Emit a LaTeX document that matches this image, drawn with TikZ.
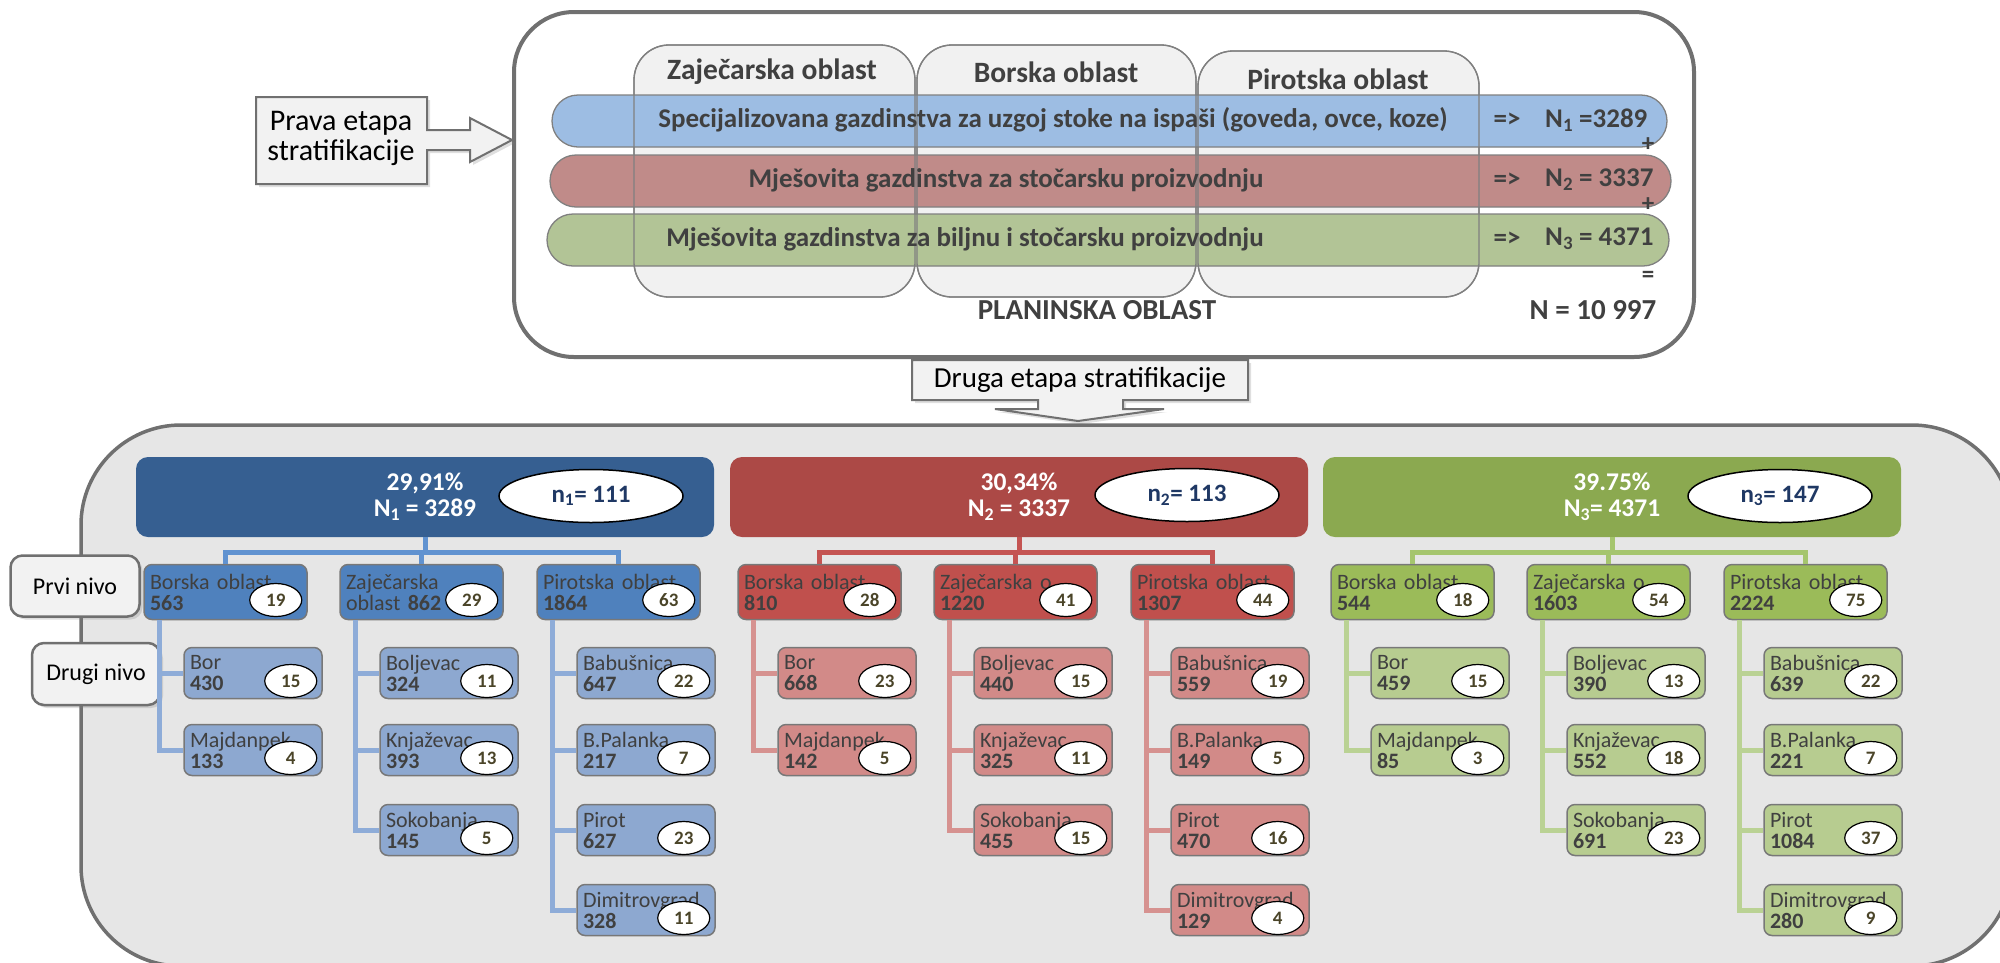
\documentclass[tikz,border=0pt]{standalone}
\usepackage{fontspec}
\setmainfont{Carlito}
\usetikzlibrary{shapes.geometric,shadows}

\definecolor{framegrey}{RGB}{112,112,112}
\definecolor{colfill}{RGB}{241,241,241}
\definecolor{colline}{RGB}{128,128,128}
\definecolor{bandblue}{RGB}{157,189,227}
\definecolor{bandred}{RGB}{192,139,137}
\definecolor{bandgreen}{RGB}{178,196,150}
\definecolor{txtgrey}{RGB}{64,64,64}
\definecolor{boxfill}{RGB}{242,242,242}
\definecolor{bigfill}{RGB}{230,230,230}
\definecolor{catblue}{RGB}{54,95,145}
\definecolor{catred}{RGB}{172,73,70}
\definecolor{catgreen}{RGB}{139,169,80}
\definecolor{l1blue}{RGB}{79,129,189}
\definecolor{l1red}{RGB}{192,80,77}
\definecolor{l1green}{RGB}{155,187,89}
\definecolor{l2blue}{RGB}{141,168,208}
\definecolor{l2red}{RGB}{210,138,136}
\definecolor{l2green}{RGB}{183,204,144}
\definecolor{tblue}{RGB}{96,146,208}
\definecolor{sblue}{RGB}{142,172,216}
\definecolor{tred}{RGB}{196,84,82}
\definecolor{sred}{RGB}{214,146,144}
\definecolor{tgreen}{RGB}{165,197,110}
\definecolor{sgreen}{RGB}{186,210,148}
\definecolor{navy}{RGB}{31,56,100}
\definecolor{cnttxt}{RGB}{74,68,40}
\definecolor{boxline}{RGB}{120,120,120}

\newcommand{\catfont}{\fontsize{25.5}{26}\selectfont\bfseries}
\newcommand{\ellfont}{\fontsize{25}{26}\selectfont\bfseries}
\newcommand{\lvlfont}{\fontsize{22}{21}\selectfont}
\newcommand{\cntfont}{\fontsize{19}{19}\selectfont\bfseries}
\newcommand{\bandfont}{\fontsize{27}{27}\selectfont\bfseries}
\newcommand{\colfont}{\fontsize{29.5}{30}\selectfont\bfseries}
\newcommand{\sumfont}{\fontsize{29}{29}\selectfont\bfseries}
\newcommand{\opfont}{\fontsize{25}{25}\selectfont\bfseries}
\newcommand{\stagefont}{\fontsize{30}{30}\selectfont}
\newcommand{\nivofont}{\fontsize{24}{24}\selectfont}

\tikzset{
  topframe/.style={draw=framegrey, line width=4pt, rounded corners=60pt, fill=white},
  bigframe/.style={draw=framegrey, line width=3.5pt, rounded corners=100pt, fill=bigfill},
  colbox/.style={rounded corners=35pt, draw=colline, line width=1.3pt},
  band/.style={rounded corners=26pt, draw=colline, line width=1.3pt},
  bandtxt/.style={font=\bandfont, text=txtgrey},
  coltxt/.style={font=\colfont, text=txtgrey},
  sumtxt/.style={font=\sumfont, text=txtgrey},
  optxt/.style={font=\opfont, text=txtgrey, inner sep=0pt},
  arrowbox/.style={fill=boxfill, draw=framegrey, line width=2pt,
    drop shadow={opacity=0.25, shadow xshift=3pt, shadow yshift=-3pt}},
  nivo/.style={draw=framegrey, line width=2.5pt, fill=boxfill, rounded corners=12pt,
    font=\nivofont, drop shadow={opacity=0.25, shadow xshift=3pt, shadow yshift=-3pt}},
  cat/.style={rounded corners=12pt, minimum width=578pt, minimum height=80pt,
    align=center, text=white, font=\catfont},
  bigell/.style={ellipse, draw=black, line width=1.5pt, fill=white, minimum width=184pt,
    minimum height=53pt, text=navy, font=\ellfont},
  cnt/.style={ellipse, draw=black, line width=1.2pt, fill=white, minimum width=52pt,
    minimum height=33pt, inner sep=0pt, text=cnttxt, font=\cntfont, anchor=center,
    xshift=-32pt, yshift=-8pt},
  lone/.style={draw=boxline, line width=1.5pt, rounded corners=8pt, minimum width=163pt,
    minimum height=55pt, text width=151pt, inner xsep=6pt, inner ysep=0pt, align=left,
    text=txtgrey, font=\lvlfont, label={[cnt]east:#1}},
  ltwo/.style={lone=#1, minimum width=138pt, minimum height=51pt, text width=126pt},
  conn/.style={line width=5pt},
}

\begin{document}
\begin{tikzpicture}[x=1pt,y=-1pt]
  \useasboundingbox (0,0) rectangle (2000,962);

  % frames
  \draw[bigframe] (81,425) rectangle (2012,966);
  \draw[topframe] (514,12) rectangle (1694,357);

  % first stage
  \draw[colbox, fill=colfill] (634,45) rectangle (915,297);
  \draw[colbox, fill=colfill] (917,45) rectangle (1196,297);
  \draw[colbox, fill=colfill] (1198,51) rectangle (1479,297);
  \node[coltxt] (zaj) at (772,72) {Zaječarska oblast};
  \node[coltxt] (bor) at (1056,72) {Borska oblast};
  \node[coltxt] (pir) at (1338,79) {Pirotska oblast};

  \draw[band, fill=bandblue] (552,95) rectangle (1667,147);
  \draw[band, fill=bandred] (550,155) rectangle (1671,207);
  \draw[band, fill=bandgreen] (547,214) rectangle (1669,266);
  \draw[colbox] (634,45) rectangle (915,297);
  \draw[colbox] (917,45) rectangle (1196,297);
  \draw[colbox] (1198,51) rectangle (1479,297);

  \node[bandtxt] (s1) at (1053,120) {Specijalizovana gazdinstva za uzgoj stoke na ispaši (goveda, ovce, koze)};
  \node[bandtxt] (s2) at (1006,180) {Mješovita gazdinstva za stočarsku proizvodnju};
  \node[bandtxt] (s3) at (965,239) {Mješovita gazdinstva za biljnu i stočarsku proizvodnju};
  \node[bandtxt] (i1) at (1507,120) {=>};
  \node[bandtxt] (i2) at (1507,180) {=>};
  \node[bandtxt] (i3) at (1507,239) {=>};
  \node[bandtxt, anchor=west, inner sep=0pt] (N1) at (1545,120) {N\textsubscript{1} =3289};
  \node[bandtxt, anchor=west, inner sep=0pt] (N2) at (1545,180) {N\textsubscript{2} = 3337};
  \node[bandtxt, anchor=west, inner sep=0pt] (N3) at (1545,239) {N\textsubscript{3} = 4371};
  \node[optxt] (p1) at (1648,145) {+};
  \node[optxt] (p2) at (1648,205) {+};
  \node[optxt] (eq) at (1648,277) {=};
  \node[sumtxt] (plan) at (1097,310) {PLANINSKA OBLAST};
  \node[sumtxt] (N) at (1593,310) {N = 10 997};

  % stage arrows
  \draw[arrowbox] (256,97) -- (427,97) -- (427,130) -- (470,130) -- (470,118) -- (512,140)
    -- (470,162) -- (470,150) -- (427,150) -- (427,184) -- (256,184) -- cycle;
  \node[font=\stagefont, align=center] (prva) at (341,138) {Prava etapa\\stratifikacije};
  \draw[arrowbox] (912,360) -- (1248,360) -- (1248,400) -- (1123,400) -- (1123,409)
    -- (1164,409) -- (1078,421) -- (995,409) -- (1038,409) -- (1038,400) -- (912,400) -- cycle;
  \node[font=\fontsize{29}{29}\selectfont] (druga) at (1080,380) {Druga etapa stratifikacije};

  % levels
  \node[nivo, minimum width=129pt, minimum height=61pt] (prvi) at (75,586) {Prvi nivo};
  \node[nivo, minimum width=128pt, minimum height=62pt] (drugi) at (96,674) {Drugi nivo};

  % strata
  \node[cat, fill=catblue] (cB) at (425,497) {29,91\%\\N\textsubscript{1} = 3289};
  \node[cat, fill=catred] (cR) at (1019,497) {30,34\%\\N\textsubscript{2} = 3337};
  \node[cat, fill=catgreen] (cG) at (1612,497) {39.75\%\\N\textsubscript{3}= 4371};
  \node[bigell] (nB) at (591,496) {n\textsubscript{1}= 111};
  \node[bigell] (nR) at (1187,495) {n\textsubscript{2}= 113};
  \node[bigell] (nG) at (1780,496) {n\textsubscript{3}= 147};

  \node[lone=19, fill=l1blue] (bB) at (225.5,592) {Borska oblast\\\textbf{563}};
  \node[lone=29, fill=l1blue] (bZ) at (421.5,592) {Zaječarska\\oblast \textbf{862}};
  \node[lone=63, fill=l1blue] (bP) at (618.5,592) {Pirotska oblast\\\textbf{1864}};
  \node[ltwo=15, fill=l2blue] (bBor) at (253,673) {Bor\\\textbf{430}};
  \node[ltwo=4, fill=l2blue] (bMaj) at (253,750) {Majdanpek\\\textbf{133}};
  \node[ltwo=11, fill=l2blue] (bBol) at (449,673) {Boljevac\\\textbf{324}};
  \node[ltwo=13, fill=l2blue] (bKnj) at (449,750) {Knjaževac\\\textbf{393}};
  \node[ltwo=5, fill=l2blue] (bSok) at (449,830) {Sokobanja\\\textbf{145}};
  \node[ltwo=22, fill=l2blue] (bBab) at (646,673) {Babušnica\\\textbf{647}};
  \node[ltwo=7, fill=l2blue] (bPal) at (646,750) {B.Palanka\\\textbf{217}};
  \node[ltwo=23, fill=l2blue] (bPir) at (646,830) {Pirot\\\textbf{627}};
  \node[ltwo=11, fill=l2blue] (bDim) at (646,910) {Dimitrovgrad\\\textbf{328}};

  \node[lone=28, fill=l1red] (rB) at (819.5,592) {Borska oblast\\\textbf{810}};
  \node[lone=41, fill=l1red] (rZ) at (1015.5,592) {Zaječarska o\\\textbf{1220}};
  \node[lone=44, fill=l1red] (rP) at (1212.5,592) {Pirotska oblast\\\textbf{1307}};
  \node[ltwo=23, fill=l2red] (rBor) at (847,673) {Bor\\\textbf{668}};
  \node[ltwo=5, fill=l2red] (rMaj) at (847,750) {Majdanpek\\\textbf{142}};
  \node[ltwo=15, fill=l2red] (rBol) at (1043,673) {Boljevac\\\textbf{440}};
  \node[ltwo=11, fill=l2red] (rKnj) at (1043,750) {Knjaževac\\\textbf{325}};
  \node[ltwo=15, fill=l2red] (rSok) at (1043,830) {Sokobanja\\\textbf{455}};
  \node[ltwo=19, fill=l2red] (rBab) at (1240,673) {Babušnica\\\textbf{559}};
  \node[ltwo=5, fill=l2red] (rPal) at (1240,750) {B.Palanka\\\textbf{149}};
  \node[ltwo=16, fill=l2red] (rPir) at (1240,830) {Pirot\\\textbf{470}};
  \node[ltwo=4, fill=l2red] (rDim) at (1240,910) {Dimitrovgrad\\\textbf{129}};

  \node[lone=18, fill=l1green] (gB) at (1412.5,592) {Borska oblast\\\textbf{544}};
  \node[lone=54, fill=l1green] (gZ) at (1608.5,592) {Zaječarska o\\\textbf{1603}};
  \node[lone=75, fill=l1green] (gP) at (1805.5,592) {Pirotska oblast\\\textbf{2224}};
  \node[ltwo=15, fill=l2green] (gBor) at (1440,673) {Bor\\\textbf{459}};
  \node[ltwo=3, fill=l2green] (gMaj) at (1440,750) {Majdanpek\\\textbf{85}};
  \node[ltwo=13, fill=l2green] (gBol) at (1636,673) {Boljevac\\\textbf{390}};
  \node[ltwo=18, fill=l2green] (gKnj) at (1636,750) {Knjaževac\\\textbf{552}};
  \node[ltwo=23, fill=l2green] (gSok) at (1636,830) {Sokobanja\\\textbf{691}};
  \node[ltwo=22, fill=l2green] (gBab) at (1833,673) {Babušnica\\\textbf{639}};
  \node[ltwo=7, fill=l2green] (gPal) at (1833,750) {B.Palanka\\\textbf{221}};
  \node[ltwo=37, fill=l2green] (gPir) at (1833,830) {Pirot\\\textbf{1084}};
  \node[ltwo=9, fill=l2green] (gDim) at (1833,910) {Dimitrovgrad\\\textbf{280}};

  % connectors
  \begin{scope}[conn]
    \draw[tblue] (cB.south) -- ++(0,15) -| (bB.north);
    \draw[tblue] (cB.south) -- ++(0,15) -| (bZ.north);
    \draw[tblue] (cB.south) -- ++(0,15) -| (bP.north);
    \draw[sblue] ([xshift=16pt]bB.south west) |- (bBor.west);
    \draw[sblue] ([xshift=16pt]bB.south west) |- (bMaj.west);
    \draw[sblue] ([xshift=16pt]bZ.south west) |- (bBol.west);
    \draw[sblue] ([xshift=16pt]bZ.south west) |- (bKnj.west);
    \draw[sblue] ([xshift=16pt]bZ.south west) |- (bSok.west);
    \draw[sblue] ([xshift=16pt]bP.south west) |- (bBab.west);
    \draw[sblue] ([xshift=16pt]bP.south west) |- (bPal.west);
    \draw[sblue] ([xshift=16pt]bP.south west) |- (bPir.west);
    \draw[sblue] ([xshift=16pt]bP.south west) |- (bDim.west);

    \draw[tred] (cR.south) -- ++(0,15) -| (rB.north);
    \draw[tred] (cR.south) -- ++(0,15) -| (rZ.north);
    \draw[tred] (cR.south) -- ++(0,15) -| (rP.north);
    \draw[sred] ([xshift=16pt]rB.south west) |- (rBor.west);
    \draw[sred] ([xshift=16pt]rB.south west) |- (rMaj.west);
    \draw[sred] ([xshift=16pt]rZ.south west) |- (rBol.west);
    \draw[sred] ([xshift=16pt]rZ.south west) |- (rKnj.west);
    \draw[sred] ([xshift=16pt]rZ.south west) |- (rSok.west);
    \draw[sred] ([xshift=16pt]rP.south west) |- (rBab.west);
    \draw[sred] ([xshift=16pt]rP.south west) |- (rPal.west);
    \draw[sred] ([xshift=16pt]rP.south west) |- (rPir.west);
    \draw[sred] ([xshift=16pt]rP.south west) |- (rDim.west);

    \draw[tgreen] (cG.south) -- ++(0,15) -| (gB.north);
    \draw[tgreen] (cG.south) -- ++(0,15) -| (gZ.north);
    \draw[tgreen] (cG.south) -- ++(0,15) -| (gP.north);
    \draw[sgreen] ([xshift=16pt]gB.south west) |- (gBor.west);
    \draw[sgreen] ([xshift=16pt]gB.south west) |- (gMaj.west);
    \draw[sgreen] ([xshift=16pt]gZ.south west) |- (gBol.west);
    \draw[sgreen] ([xshift=16pt]gZ.south west) |- (gKnj.west);
    \draw[sgreen] ([xshift=16pt]gZ.south west) |- (gSok.west);
    \draw[sgreen] ([xshift=16pt]gP.south west) |- (gBab.west);
    \draw[sgreen] ([xshift=16pt]gP.south west) |- (gPal.west);
    \draw[sgreen] ([xshift=16pt]gP.south west) |- (gPir.west);
    \draw[sgreen] ([xshift=16pt]gP.south west) |- (gDim.west);
  \end{scope}
\end{tikzpicture}
\end{document}
